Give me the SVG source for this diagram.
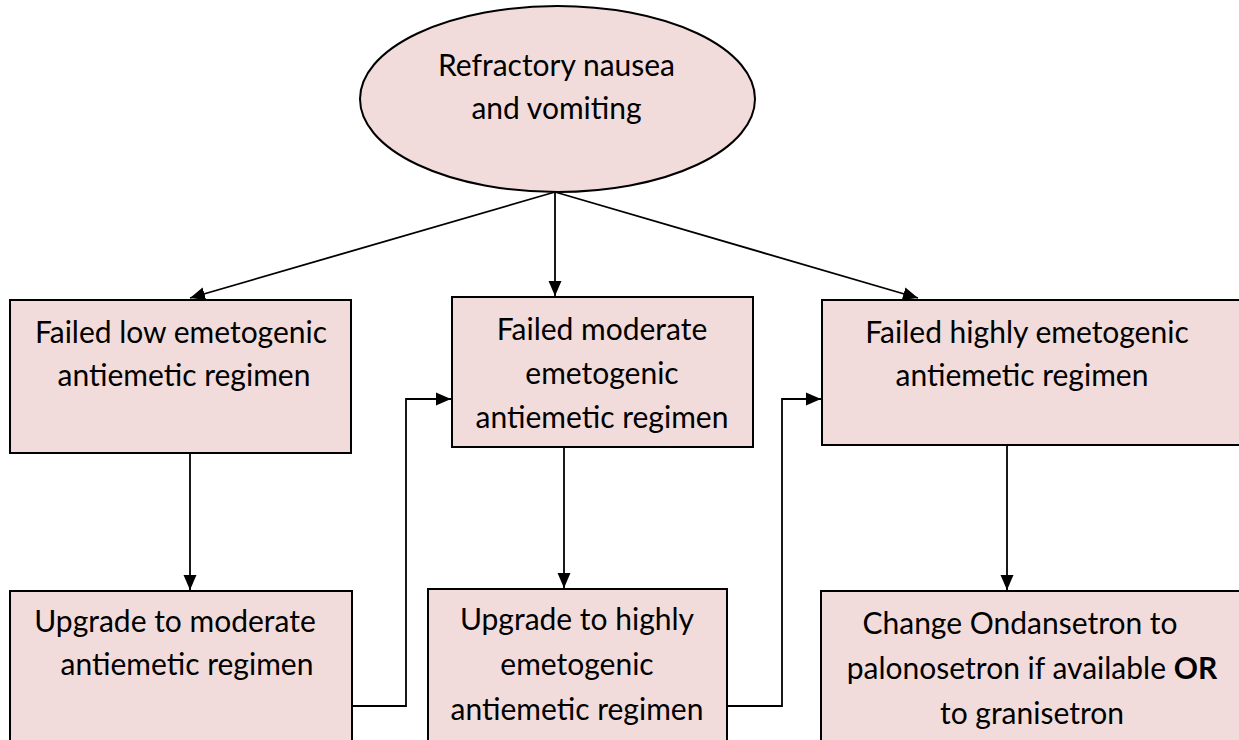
<svg xmlns="http://www.w3.org/2000/svg" width="1239" height="740" viewBox="0 0 1239 740">
  <style>
    .node { fill: #F2DCDB; stroke: #000; stroke-width: 2; }
    .label { font-family: Lato, "Liberation Sans", sans-serif; font-size: 30px; fill: #000; text-anchor: middle; }
    .edge { fill: none; stroke: #000; stroke-width: 1.8; }
  </style>
  <defs>
    <marker id="arrow" markerUnits="userSpaceOnUse" markerWidth="16" markerHeight="14" refX="15" refY="7" orient="auto">
      <path d="M0,0.5 L15,7 L0,13.5 Z" fill="#000"/>
    </marker>
  </defs>

  <rect width="1239" height="740" fill="#fff"/>

  <!-- start node -->
  <g id="refractory">
    <ellipse class="node" cx="557.5" cy="99" rx="197.5" ry="93"/>
    <text class="label" x="556.5" y="76">Refractory nausea</text>
    <text class="label" x="556.5" y="119">and vomiting</text>
  </g>

  <!-- failed regimens -->
  <g id="failed-low">
    <rect class="node" x="10" y="300" width="341" height="153"/>
    <text class="label" x="181" y="343">Failed low emetogenic</text>
    <text class="label" x="184" y="386">antiemetic regimen</text>
  </g>
  <g id="failed-moderate">
    <rect class="node" x="452" y="297" width="301" height="150"/>
    <text class="label" x="602" y="340">Failed moderate</text>
    <text class="label" x="602" y="384">emetogenic</text>
    <text class="label" x="602" y="428">antiemetic regimen</text>
  </g>
  <g id="failed-high">
    <rect class="node" x="822" y="300" width="430" height="145"/>
    <text class="label" x="1027" y="343">Failed highly emetogenic</text>
    <text class="label" x="1022" y="386">antiemetic regimen</text>
  </g>

  <!-- next steps -->
  <g id="upgrade-moderate">
    <rect class="node" x="10" y="591" width="342" height="160"/>
    <text class="label" x="175" y="632">Upgrade to moderate</text>
    <text class="label" x="187" y="675">antiemetic regimen</text>
  </g>
  <g id="upgrade-high">
    <rect class="node" x="428" y="589" width="299" height="160"/>
    <text class="label" x="577" y="630">Upgrade to highly</text>
    <text class="label" x="577" y="675">emetogenic</text>
    <text class="label" x="577" y="720">antiemetic regimen</text>
  </g>
  <g id="change-setron">
    <rect class="node" x="821" y="591" width="430" height="160"/>
    <text class="label" x="1020" y="634">Change Ondansetron to</text>
    <text class="label" x="1032" y="679">palonosetron if available <tspan font-weight="bold">OR</tspan></text>
    <text class="label" x="1032" y="724">to granisetron</text>
  </g>

  <!-- connectors -->
  <g id="connectors">
    <line class="edge" x1="555" y1="192" x2="190" y2="298" marker-end="url(#arrow)"/>
    <line class="edge" x1="555" y1="192" x2="555" y2="296" marker-end="url(#arrow)"/>
    <line class="edge" x1="555" y1="192" x2="918" y2="298" marker-end="url(#arrow)"/>
    <line class="edge" x1="190" y1="453" x2="190" y2="590" marker-end="url(#arrow)"/>
    <line class="edge" x1="564" y1="447" x2="564" y2="588" marker-end="url(#arrow)"/>
    <line class="edge" x1="1007" y1="445" x2="1007" y2="590" marker-end="url(#arrow)"/>
    <polyline class="edge" points="352,706 406,706 406,399 451,399" marker-end="url(#arrow)"/>
    <polyline class="edge" points="727,706 782,706 782,399 821,399" marker-end="url(#arrow)"/>
  </g>
</svg>
